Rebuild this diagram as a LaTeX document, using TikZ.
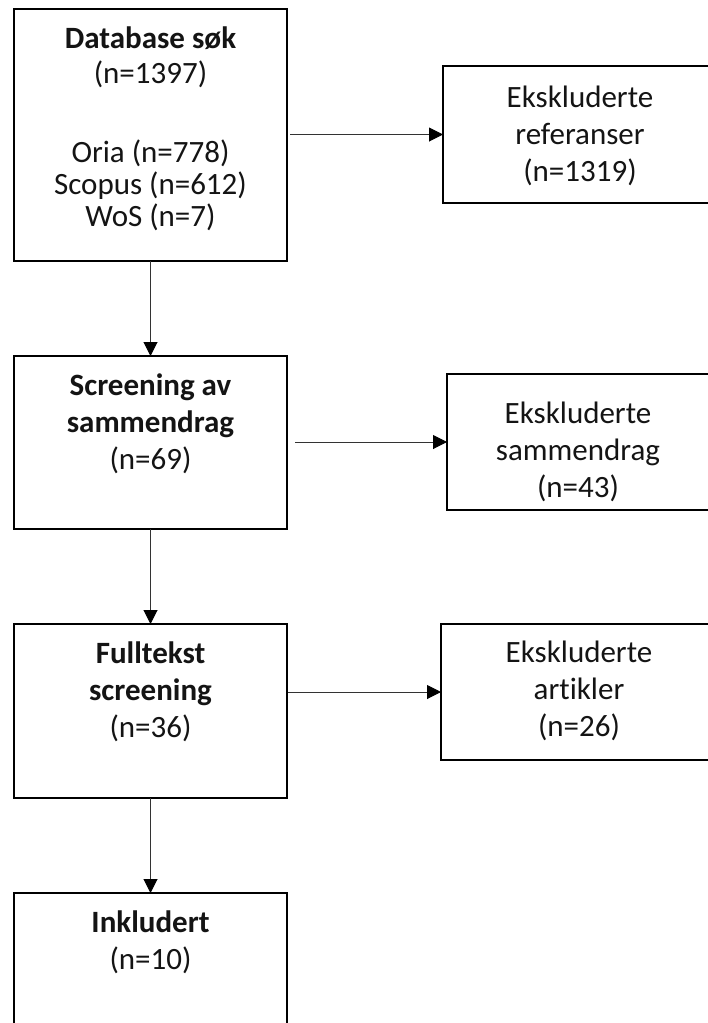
\documentclass[tikz,border=0pt]{standalone}
\usepackage{fontspec}
\setmainfont{Carlito}[Ligatures=NoCommon]
\usetikzlibrary{arrows.meta,calc}
% fixed-height strut so every text block's top sits 25pt above its first baseline
\newcommand\boxstrut{\rule{0pt}{25pt}}
\begin{document}
\begin{tikzpicture}[x=1pt,y=-1pt,
  box/.style={draw=black,line width=2.2pt,rectangle,minimum width=273pt,inner sep=0pt,outer sep=0pt},
  txt/.style={anchor=north,align=center,inner sep=0pt,font=\fontsize{31}{37}\selectfont,text=black!92},
  flow/.style={draw=black!80,line width=1pt,-{Triangle[length=14pt,width=14pt,color=black]}}]
\useasboundingbox[fill=white] (0,0) rectangle (708,1023);

% main flow boxes (left column)
\node[box,minimum height=252pt] (b1) at (150.5,135) {};
\node[box,minimum height=173pt] (b2) at (150.5,442.5) {};
\node[box,minimum height=174pt] (b3) at (150.5,711) {};
\node[box,minimum height=214pt] (b4) at (150.5,1000) {};

% exclusion boxes (right column)
\node[box,minimum height=137pt] (r1) at (579.5,134.5) {};
\node[box,minimum height=136pt] (r2) at (583.5,442) {};
\node[box,minimum height=136pt] (r3) at (577.5,692) {};

% texts
\node[txt,font=\fontsize{31}{32}\selectfont] (t1) at ($(b1.north)+(0,14)$)
  {\boxstrut\textbf{Database søk}\\[3pt](n=1397)\\[47pt]Oria (n=778)\\Scopus (n=612)\\WoS (n=7)};
\node[txt] (t2) at ($(b2.north)+(0,14)$)
  {\boxstrut\textbf{Screening av}\\\textbf{sammendrag}\\(n=69)};
\node[txt] (t3) at ($(b3.north)+(0,14)$)
  {\boxstrut\textbf{Fulltekst}\\\textbf{screening}\\(n=36)};
\node[txt] (t4) at ($(b4.north)+(0,14)$)
  {\boxstrut\textbf{Inkludert}\\(n=10)};
\node[txt] (u1) at ($(r1.north)+(0.5,16)$)
  {\boxstrut Ekskluderte\\referanser\\(n=1319)};
\node[txt] (u2) at ($(r2.north)+(-5.5,24)$)
  {\boxstrut Ekskluderte\\sammendrag\\(n=43)};
\node[txt] (u3) at ($(r3.north)+(1.5,13)$)
  {\boxstrut Ekskluderte\\artikler\\(n=26)};

% connectors
\draw[flow] (b1.south) -- (b2.north);
\draw[flow] (b2.south) -- (b3.north);
\draw[flow] (b3.south) -- (b4.north);
\draw[flow,shorten <=3pt] (b1.east |- r1.west) -- (r1.west);
\draw[flow,shorten <=8pt] (b2.east |- r2.west) -- (r2.west);
\draw[flow,shorten <=1pt] (b3.east |- r3.west) -- (r3.west);
\end{tikzpicture}
\end{document}
